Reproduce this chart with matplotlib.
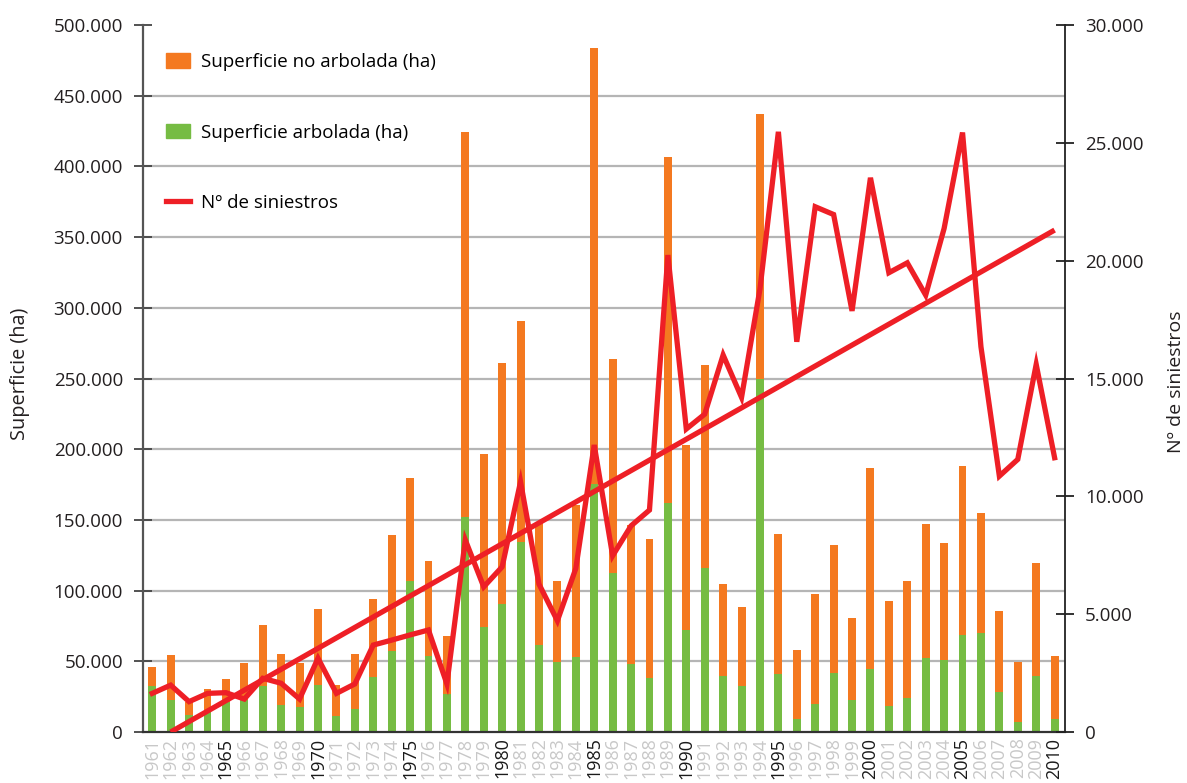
import matplotlib
matplotlib.use("Agg")
import matplotlib.pyplot as plt
from matplotlib.patches import Patch
from matplotlib.lines import Line2D
from matplotlib.ticker import FuncFormatter

years = list(range(1961, 2011))

# superficie arbolada (ha) - green part
arbolada = [32700, 22900, 12000, 14500, 21400, 23000, 32700, 19100, 17700, 33200,
            11500, 16300, 38900, 57300, 106800, 54000, 27100, 152000, 74300, 90700,
            134600, 61500, 49700, 53000, 175400, 112400, 48300, 38400, 162000, 72300,
            116200, 39800, 32700, 249400, 41200, 9200, 20000, 41700, 22800, 44600,
            18600, 24300, 52500, 51100, 68600, 70000, 28500, 7300, 39800, 9200]

# superficie no arbolada (ha) - orange part, stacked on top
no_arbolada = [13300, 31600, 9400, 15900, 16100, 25800, 43000, 36000, 31300, 53800,
               21700, 38800, 55100, 82000, 72800, 66900, 40800, 272300, 122300, 170500,
               156100, 86500, 57100, 107500, 308300, 151400, 98100, 98100, 244800, 130700,
               143400, 64900, 55700, 187600, 98800, 48800, 77600, 90500, 57800, 142100,
               74000, 82500, 94600, 82600, 119500, 84900, 57100, 42200, 79700, 44500]

# numero de siniestros (right axis)
siniestros = [1640, 1990, 1290, 1640, 1670, 1400, 2280, 2070, 1400, 3130,
              1640, 2040, 3690, 3900, 4120, 4330, 2040, 8150, 6160, 7010,
              10620, 6280, 4720, 6940, 12180, 7480, 8750, 9420, 20240, 12860,
              13490, 16000, 14200, 18800, 25470, 16560, 22290, 21960, 17870, 23520,
              19490, 19910, 18540, 21370, 25440, 16350, 10860, 11570, 15600, 11640]

# linear trend of siniestros, as drawn
trend_years = [1962, 2010]
trend_values = [0, 21300]

left_ticks = [0, 50000, 100000, 150000, 200000, 250000, 300000, 350000, 400000, 450000, 500000]
right_ticks = [0, 5000, 10000, 15000, 20000, 25000, 30000]

ORANGE = "#f47920"
GREEN = "#76bc43"
RED = "#ee1f26"
FONT = ["Open Sans", "DejaVu Sans"]

plt.rcParams["font.family"] = FONT


def miles(v, pos=None):
    return f"{int(v):,}".replace(",", ".")


fig = plt.figure(figsize=(11.87, 7.83), dpi=100)
ax = fig.add_axes([0.1205, 0.0651, 0.897 - 0.1205, 0.968 - 0.0651])
ax2 = ax.twinx()

# grey gridlines (none on the top value)
for v in left_ticks[1:-1]:
    ax.axhline(v, color="#b5b5b5", lw=1.6, zorder=0)

w = 0.43
ax.bar(years, arbolada, width=w, color=GREEN, zorder=2)
ax.bar(years, no_arbolada, width=w, bottom=arbolada, color=ORANGE, zorder=2)

ax2.plot(years, siniestros, color=RED, lw=3.8, solid_joinstyle="miter", zorder=3)
ax2.plot(trend_years, trend_values, color=RED, lw=3.8, solid_capstyle="butt", zorder=3)

ax.set_xlim(1960.5, 2010.55)
ax.set_ylim(0, 500000)
ax2.set_ylim(0, 30000)

ax.set_yticks(left_ticks)
ax.yaxis.set_major_formatter(FuncFormatter(miles))
ax2.set_yticks(right_ticks)
ax2.yaxis.set_major_formatter(FuncFormatter(miles))

ax.set_xticks(years)
ax.set_xticklabels([str(y) for y in years], rotation=90, fontsize=13)
for lab, y in zip(ax.get_xticklabels(), years):
    lab.set_color("#1a1a1a" if y % 5 == 0 else "#c8c8c8")
ax.tick_params(axis="x", length=0, pad=4)

ax.tick_params(axis="y", direction="inout", length=13, width=1.3, color="#444444",
               labelsize=13.5, labelcolor="#231f20", pad=8)
ax2.tick_params(axis="y", direction="inout", length=13, width=1.3, color="#222222",
                labelsize=13.5, labelcolor="#231f20", pad=8)

for s in ["top", "right"]:
    ax.spines[s].set_visible(False)
for s in ["top", "left", "bottom"]:
    ax2.spines[s].set_visible(False)
ax.spines["left"].set_color("#555555")
ax.spines["left"].set_linewidth(1.6)
ax.spines["bottom"].set_color("#333333")
ax.spines["bottom"].set_linewidth(1.6)
ax2.spines["right"].set_color("#222222")
ax2.spines["right"].set_linewidth(1.3)

ax.set_ylabel("Superficie (ha)", fontsize=14.3, color="#231f20")
ax.yaxis.set_label_coords(-0.123, 0.506)
ax2.set_ylabel("Nº de siniestros", fontsize=14, color="#231f20")
ax2.yaxis.set_label_coords(1.111, 0.495)

handles = [Patch(color=ORANGE), Patch(color=GREEN), Line2D([], [], color=RED, lw=3.8)]
labels = ["Superficie no arbolada (ha)", "Superficie arbolada (ha)", "Nº de siniestros"]
ax2.legend(handles, labels, loc="upper left", bbox_to_anchor=(0.025, 0.961),
           frameon=False, fontsize=13.5, labelspacing=2.82, handlelength=1.25,
           handleheight=0.85, handletextpad=0.6, borderpad=0, borderaxespad=0)

fig.savefig("out.png", dpi=100)
